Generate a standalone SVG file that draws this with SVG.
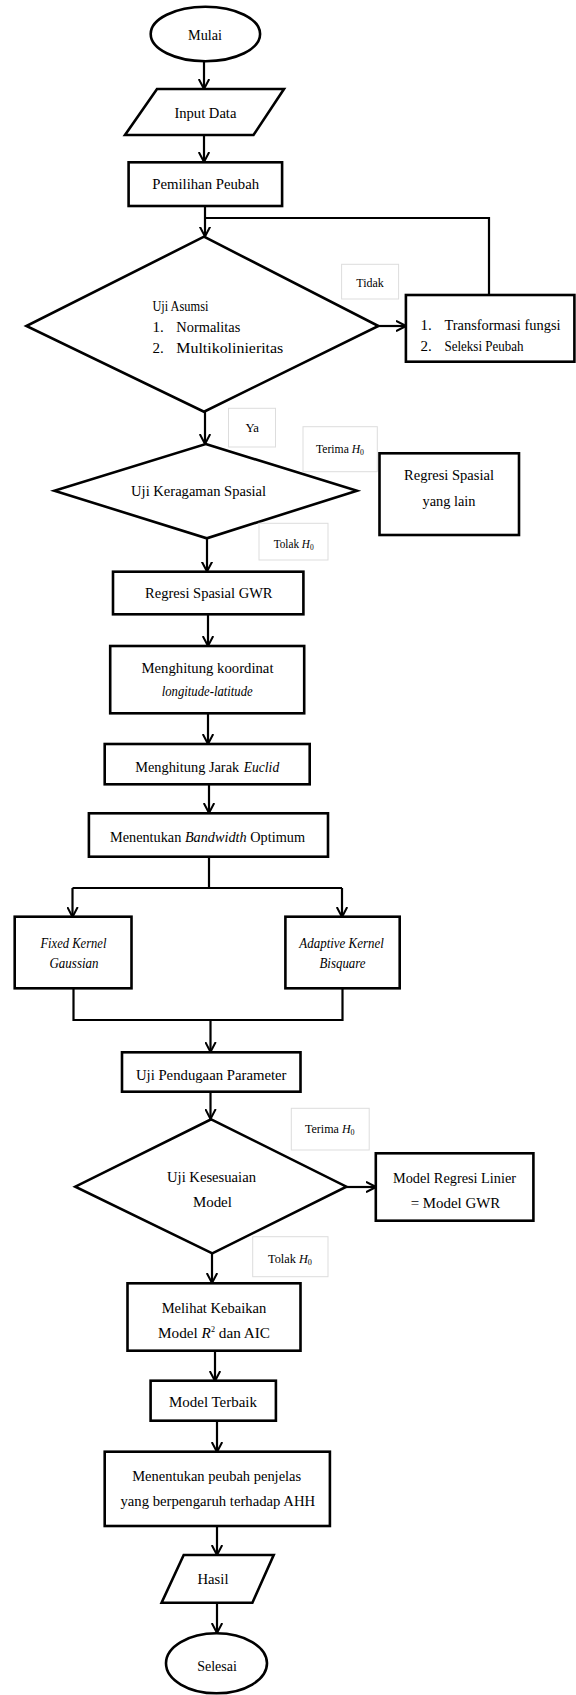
<svg xmlns="http://www.w3.org/2000/svg" width="576" height="1695" viewBox="0 0 576 1695">
<defs>
<marker id="arr" markerUnits="userSpaceOnUse" viewBox="0 0 10 12" refX="10" refY="6" markerWidth="10" markerHeight="12" orient="auto">
<path d="M0,0.8 L10,6 L0,11.2" fill="none" stroke="#000" stroke-width="2"/>
</marker>
</defs>
<style>
.s{fill:#fff;stroke:#000;stroke-width:2.6}
.lb{fill:#fff;stroke:#ddd;stroke-width:1}
.c{fill:none;stroke:#000;stroke-width:2.2}
.a{fill:none;stroke:#000;stroke-width:2.2;marker-end:url(#arr)}
text{font-family:"Liberation Serif","Times New Roman",serif;font-size:15px;fill:#000}
.m{text-anchor:middle}
.sm{font-size:12px}
.i{font-style:italic}
</style>
<rect width="576" height="1695" fill="#fff"/>
<g id="connectors">
<path class="a" d="M204,61 V89"/>
<path class="a" d="M204,135 V162"/>
<path class="a" d="M205,206 V236.5"/>
<path class="c" d="M489,295 V218 H205"/>
<path class="a" d="M378,326 H406"/>
<path class="a" d="M205,412 V444"/>
<path class="a" d="M207,538 V571.5"/>
<path class="a" d="M208,614 V646"/>
<path class="a" d="M208,713 V744"/>
<path class="a" d="M209,784 V813"/>
<path class="c" d="M209,857 V888 M72.5,888 H342"/>
<path class="a" d="M72.5,888 V917"/>
<path class="a" d="M342,888 V917"/>
<path class="c" d="M73.5,988 V1020 H342.5 V988"/>
<path class="a" d="M210.5,1020 V1052"/>
<path class="a" d="M210.5,1092 V1119"/>
<path class="a" d="M346,1187 H376"/>
<path class="a" d="M212,1253 V1283"/>
<path class="a" d="M215,1351 V1381"/>
<path class="a" d="M217,1421 V1452"/>
<path class="a" d="M217,1526 V1555"/>
<path class="a" d="M217,1603 V1633"/>
</g>
<g id="mulai">
<ellipse class="s" cx="205.4" cy="34" rx="54.7" ry="27.2"/>
<text class="m" x="205" y="40" textLength="34" lengthAdjust="spacingAndGlyphs">Mulai</text>
</g>
<g id="input-data">
<polygon class="s" points="157,89 284,89 253.5,135 125,135"/>
<text class="m" x="205.4" y="118" textLength="62" lengthAdjust="spacingAndGlyphs">Input Data</text>
</g>
<g id="pemilihan-peubah">
<rect class="s" x="128.6" y="162.3" width="153.5" height="43.7"/>
<text class="m" x="205.7" y="189" textLength="107" lengthAdjust="spacingAndGlyphs">Pemilihan Peubah</text>
</g>
<g id="uji-asumsi">
<polygon class="s" points="204,236.7 378.4,326 204,411.7 26.4,326"/>
<text x="152.4" y="311" textLength="56" lengthAdjust="spacingAndGlyphs">Uji Asumsi</text>
<text x="152.4" y="332">1.</text>
<text x="176.3" y="332" textLength="64" lengthAdjust="spacingAndGlyphs">Normalitas</text>
<text x="152.4" y="353">2.</text>
<text x="176.3" y="353" textLength="107" lengthAdjust="spacingAndGlyphs">Multikolinieritas</text>
</g>
<g id="transformasi">
<rect class="s" x="405.9" y="295" width="168.5" height="66.7"/>
<text x="420.6" y="330">1.</text>
<text x="444.5" y="330" textLength="116" lengthAdjust="spacingAndGlyphs">Transformasi fungsi</text>
<text x="420.6" y="351">2.</text>
<text x="444.5" y="351" textLength="79" lengthAdjust="spacingAndGlyphs">Seleksi Peubah</text>
</g>
<g id="label-tidak">
<rect class="lb" x="341.6" y="264.3" width="57" height="34.7"/>
<text class="m sm" x="370" y="287" textLength="27.5" lengthAdjust="spacingAndGlyphs">Tidak</text>
</g>
<g id="label-ya">
<rect class="lb" x="228.5" y="408.3" width="47" height="38.7"/>
<text class="m sm" x="252.2" y="432" textLength="13.6" lengthAdjust="spacingAndGlyphs">Ya</text>
</g>
<g id="uji-keragaman">
<polygon class="s" points="205.7,444 357,490.7 206.8,538.3 54.4,490.7"/>
<text class="m" x="198.6" y="496" textLength="135" lengthAdjust="spacingAndGlyphs">Uji Keragaman Spasial</text>
</g>
<g id="label-terima-1">
<rect class="lb" x="303" y="426.7" width="74.3" height="45"/>
<text class="sm" x="316" y="453" textLength="48" lengthAdjust="spacingAndGlyphs">Terima <tspan class="i">H</tspan><tspan font-size="8" dy="2">0</tspan></text>
</g>
<g id="regresi-lain">
<rect class="s" x="379.5" y="453.3" width="139.5" height="81.7"/>
<text class="m" x="449" y="480" textLength="90" lengthAdjust="spacingAndGlyphs">Regresi Spasial</text>
<text class="m" x="449" y="506" textLength="53" lengthAdjust="spacingAndGlyphs">yang lain</text>
</g>
<g id="label-tolak-1">
<rect class="lb" x="259" y="523.3" width="69" height="36.7"/>
<text class="sm" x="273.7" y="548" textLength="40" lengthAdjust="spacingAndGlyphs">Tolak <tspan class="i">H</tspan><tspan font-size="8" dy="2">0</tspan></text>
</g>
<g id="regresi-gwr">
<rect class="s" x="113" y="571.7" width="190.4" height="42.6"/>
<text class="m" x="208.8" y="598" textLength="127.5" lengthAdjust="spacingAndGlyphs">Regresi Spasial GWR</text>
</g>
<g id="koordinat">
<rect class="s" x="110.2" y="646" width="194" height="67.3"/>
<text class="m" x="207.5" y="673" textLength="132" lengthAdjust="spacingAndGlyphs">Menghitung koordinat</text>
<text class="m i" x="207.2" y="696" textLength="91" lengthAdjust="spacingAndGlyphs">longitude-latitude</text>
</g>
<g id="jarak-euclid">
<rect class="s" x="104.7" y="744" width="205" height="40.3"/>
<text x="135.2" y="772" textLength="104" lengthAdjust="spacingAndGlyphs">Menghitung Jarak</text>
<text class="i" x="243.7" y="772" textLength="35.5" lengthAdjust="spacingAndGlyphs">Euclid</text>
</g>
<g id="bandwidth">
<rect class="s" x="88.9" y="813.3" width="239.1" height="43.4"/>
<text class="m" x="207.5" y="842" textLength="195" lengthAdjust="spacingAndGlyphs">Menentukan <tspan class="i">Bandwidth</tspan> Optimum</text>
</g>
<g id="fixed-kernel">
<rect class="s" x="14.7" y="916.7" width="116.8" height="71.6"/>
<text class="m i" x="73.4" y="948" textLength="66" lengthAdjust="spacingAndGlyphs">Fixed Kernel</text>
<text class="m i" x="74" y="968" textLength="49" lengthAdjust="spacingAndGlyphs">Gaussian</text>
</g>
<g id="adaptive-kernel">
<rect class="s" x="285.4" y="916.7" width="114.3" height="71.6"/>
<text class="m i" x="341.6" y="948" textLength="84.5" lengthAdjust="spacingAndGlyphs">Adaptive Kernel</text>
<text class="m i" x="342.5" y="968" textLength="46" lengthAdjust="spacingAndGlyphs">Bisquare</text>
</g>
<g id="pendugaan">
<rect class="s" x="122" y="1052.3" width="178.5" height="39.4"/>
<text class="m" x="211.2" y="1080" textLength="150.6" lengthAdjust="spacingAndGlyphs">Uji Pendugaan Parameter</text>
</g>
<g id="uji-kesesuaian">
<polygon class="s" points="211.2,1119.3 346.4,1186.7 212.3,1253.3 75.3,1186.7"/>
<text class="m" x="211.5" y="1182" textLength="89" lengthAdjust="spacingAndGlyphs">Uji Kesesuaian</text>
<text class="m" x="212.4" y="1207" textLength="39" lengthAdjust="spacingAndGlyphs">Model</text>
</g>
<g id="label-terima-2">
<rect class="lb" x="291.3" y="1108.3" width="77.9" height="41.7"/>
<text class="sm" x="305" y="1133" textLength="49.6" lengthAdjust="spacingAndGlyphs">Terima <tspan class="i">H</tspan><tspan font-size="8" dy="2">0</tspan></text>
</g>
<g id="model-linier">
<rect class="s" x="375.8" y="1153.3" width="157.6" height="67.4"/>
<text class="m" x="454.5" y="1183" textLength="123" lengthAdjust="spacingAndGlyphs">Model Regresi Linier</text>
<text class="m" x="455.5" y="1208" textLength="89.6" lengthAdjust="spacingAndGlyphs">= Model GWR</text>
</g>
<g id="label-tolak-2">
<rect class="lb" x="252.7" y="1236.7" width="75.3" height="40"/>
<text class="sm" x="268" y="1263" textLength="44" lengthAdjust="spacingAndGlyphs">Tolak <tspan class="i">H</tspan><tspan font-size="8" dy="2">0</tspan></text>
</g>
<g id="kebaikan">
<rect class="s" x="127.5" y="1283.3" width="173" height="67.4"/>
<text class="m" x="214" y="1313" textLength="104.7" lengthAdjust="spacingAndGlyphs">Melihat Kebaikan</text>
<text x="158" y="1338" textLength="112" lengthAdjust="spacingAndGlyphs">Model <tspan class="i">R</tspan><tspan font-size="8" dy="-6">2</tspan><tspan dy="6"> dan AIC</tspan></text>
</g>
<g id="model-terbaik">
<rect class="s" x="150.6" y="1380.7" width="125.3" height="40"/>
<text class="m" x="213" y="1407" textLength="88" lengthAdjust="spacingAndGlyphs">Model Terbaik</text>
</g>
<g id="peubah-penjelas">
<rect class="s" x="104.7" y="1451.7" width="225.2" height="74.3"/>
<text class="m" x="216.7" y="1481" textLength="169" lengthAdjust="spacingAndGlyphs">Menentukan peubah penjelas</text>
<text class="m" x="217.8" y="1506" textLength="194.7" lengthAdjust="spacingAndGlyphs">yang berpengaruh terhadap AHH</text>
</g>
<g id="hasil">
<polygon class="s" points="183.7,1555 273.7,1555 252.4,1602.7 161.6,1602.7"/>
<text class="m" x="213" y="1584" textLength="31" lengthAdjust="spacingAndGlyphs">Hasil</text>
</g>
<g id="selesai">
<ellipse class="s" cx="216.5" cy="1663.3" rx="50.5" ry="30"/>
<text class="m" x="217" y="1671" textLength="39.7" lengthAdjust="spacingAndGlyphs">Selesai</text>
</g>
</svg>
